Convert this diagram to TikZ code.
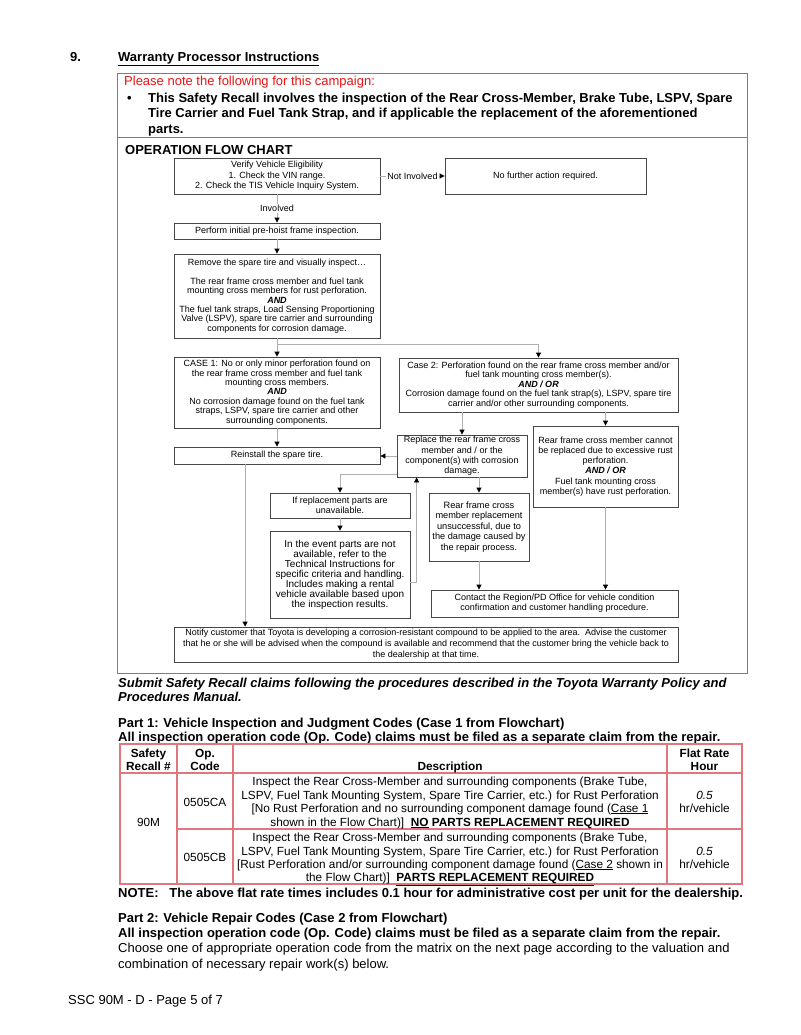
\documentclass[tikz,border=0pt]{standalone}
\usepackage{fontspec}
\setmainfont{Liberation Sans}
\usetikzlibrary{arrows.meta,calc}
\definecolor{boxc}{RGB}{70,70,70}
\definecolor{linec}{RGB}{175,175,175}
\definecolor{framec}{RGB}{125,125,125}
\definecolor{tabc}{RGB}{226,118,126}
\definecolor{redt}{RGB}{232,20,20}
\newcommand\fcf{\fontsize{9}{9.4}\selectfont}
\newcommand\bodyf{\fontsize{13}{15.5}\selectfont}
\newcommand\tabf{\fontsize{11.8}{13.6}\selectfont}
\newcommand\bitx[1]{\textbf{\textit{#1}}}
\begin{document}
\begin{tikzpicture}[x=1pt,y=-1pt,
  fbox/.style={draw=boxc, line width=0.8pt, inner sep=0pt, align=center, font=\fcf},
  conn/.style={draw=linec, line width=0.8pt},
  arr/.style={conn, -{Triangle[length=5pt,width=5pt,color=black]}},
  body/.style={anchor=base west, inner sep=0pt, font=\bodyf},
  bodyb/.style={body, font=\bodyf\bfseries},
  tab/.style={anchor=base, inner sep=0pt, font=\tabf},
  tabb/.style={tab, font=\tabf\bfseries},
  lbl/.style={fill=white, inner sep=1pt, font=\fcf}]
\fill[white] (0,0) rectangle (800,1035);
\useasboundingbox (0,0) rectangle (800,1035);

% heading
\node[bodyb] (num) at (70,61.5) {9.};
\node[bodyb] (title) at (118,61.5) {\underline{Warranty Processor Instructions}};

% frame
\draw[framec, line width=0.8pt] (117,73) rectangle (747,673);
\draw[framec, line width=0.8pt] (117,137) -- (747,137);

\node[body, text=redt] (note) at (124,85.5) {Please note the following for this campaign:};
\node[bodyb] (bul) at (127,102.5) {•};
\node[bodyb] (l1) at (148,102.5) {This Safety Recall involves the inspection of the Rear Cross-Member, Brake Tube, LSPV, Spare};
\node[bodyb] (l2) at (148,118) {Tire Carrier and Fuel Tank Strap, and if applicable the replacement of the aforementioned};
\node[bodyb] (l3) at (148,133.5) {parts.};
\node[bodyb] (ofc) at (125,154.5) {OPERATION FLOW CHART};

% flowchart boxes
\node[fbox, minimum width=206pt, minimum height=36pt, font=\fontsize{9}{10.5}\selectfont] (b1) at (277,176)
  {Verify Vehicle Eligibility\\1. Check the VIN range.\\2. Check the TIS Vehicle Inquiry System.};
\node[fbox, minimum width=201pt, minimum height=36pt] (b2) at (545.5,176) {No further action required.};
\node[fbox, minimum width=206pt, minimum height=16pt] (b3) at (277,231) {Perform initial pre-hoist frame inspection.};
\node[fbox, minimum width=206pt, minimum height=84pt] (b4) at (277,296)
  {Remove the spare tire and visually inspect…\\[9.4pt]The rear frame cross member and fuel tank\\mounting cross members for rust perforation.\\\bitx{AND}\\The fuel tank straps, Load Sensing Proportioning\\Valve (LSPV), spare tire carrier and surrounding\\components for corrosion damage.};
\node[fbox, minimum width=206pt, minimum height=71pt] (b5) at (277,392.5)
  {CASE 1: No or only minor perforation found on\\the rear frame cross member and fuel tank\\mounting cross members.\\\bitx{AND}\\No corrosion damage found on the fuel tank\\straps, LSPV, spare tire carrier and other\\surrounding components.};
\node[fbox, minimum width=279pt, minimum height=54pt] (b6) at (538.5,385)
  {Case 2: Perforation found on the rear frame cross member and/or\\fuel tank mounting cross member(s).\\\bitx{AND / OR}\\Corrosion damage found on the fuel tank strap(s), LSPV, spare tire\\carrier and/or other surrounding components.};
\node[fbox, minimum width=206pt, minimum height=17pt] (b7) at (277,455.5) {Reinstall the spare tire.};
\node[fbox, minimum width=130pt, minimum height=42pt, font=\fontsize{9}{10.3}\selectfont] (b8) at (462,456)
  {Replace the rear frame cross\\member and / or the\\component(s) with corrosion\\damage.};
\node[fbox, minimum width=145pt, minimum height=81pt, font=\fontsize{9}{10.2}\selectfont] (b9) at (605.5,466.5)
  {Rear frame cross member cannot\\be replaced due to excessive rust\\perforation.\\\bitx{AND / OR}\\Fuel tank mounting cross\\member(s) have rust perforation.};
\node[fbox, minimum width=140pt, minimum height=25pt, font=\fontsize{9}{10.5}\selectfont] (b10) at (340,505.5)
  {If replacement parts are\\unavailable.};
\node[fbox, minimum width=140pt, minimum height=87pt, font=\fontsize{10}{10}\selectfont] (b11) at (340,574.5)
  {In the event parts are not\\available, refer to the\\Technical Instructions for\\specific criteria and handling.\\Includes making a rental\\vehicle available based upon\\the inspection results.};
\node[fbox, minimum width=100pt, minimum height=68pt, font=\fontsize{9.2}{10.5}\selectfont] (b12) at (479,527)
  {Rear frame cross\\member replacement\\unsuccessful, due to\\the damage caused by\\the repair process.};
\node[fbox, minimum width=247pt, minimum height=27pt, font=\fontsize{9}{10}\selectfont] (b13) at (554.5,603.5)
  {Contact the Region/PD Office for vehicle condition\\confirmation and customer handling procedure.};
\node[fbox, minimum width=504pt, minimum height=35pt, font=\fontsize{9}{11}\selectfont] (b14) at (426,644.5)
  {Notify customer that Toyota is developing a corrosion-resistant compound to be applied to the area.\ \ Advise the customer\\that he or she will be advised when the compound is available and recommend that the customer bring the vehicle back to\\the dealership at that time.};

% connectors
\draw[arr] (b1.east) -- node[lbl] {Not Involved} (b2.west);
\draw[arr] (b1.south) -- node[lbl] {Involved} (b3.north);
\draw[arr] (b3.south) -- (b4.north);
\draw[arr] (b4.south) -- (b5.north);
\coordinate (sp) at ($(b4.south)+(0,6)$);
\draw[arr] (sp) -| (b6.north);
\draw[arr] (b5.south) -- (b7.north);
\draw[arr] (b6.south -| b8.north) -- (b8.north);
\draw[arr] (b6.south -| b9.north) -- (b9.north);
\draw[arr] (b8.west) -- (b8.west -| b7.east);
\coordinate (c8) at ($(b8.south west)+(0,-3)$);
\draw[arr] (c8) -| (b10.north);
\draw[arr] (b10.south) -- (b11.north);
\coordinate (c11) at ($(b11.east)+(0,7.5)$);
\coordinate (c8b) at ($(b8.south west)+(20,0)$);
\draw[arr] (c11) -| (c8b);
\draw[arr] (b8.south -| b12.north) -- (b12.north);
\draw[arr] (b12.south) -- (b12.south |- b13.north);
\draw[arr] (b9.south) -- (b9.south |- b13.north);
\coordinate (c7) at ($(b7.south west)+(71.5,0)$);
\draw[arr] (c7) -- (c7 |- b14.north);

% text below frame
\node[body, font=\bodyf\bfseries\itshape] (s1) at (118,687.5) {Submit Safety Recall claims following the procedures described in the Toyota Warranty Policy and};
\node[body, font=\bodyf\bfseries\itshape] (s2) at (118,701.5) {Procedures Manual.};
\node[bodyb] (p1a) at (118,727.5) {Part 1: Vehicle Inspection and Judgment Codes (Case 1 from Flowchart)};
\node[bodyb] (p1b) at (118,741) {All inspection operation code (Op. Code) claims must be filed as a separate claim from the repair.};

% table
\draw[tabc, line width=1.2pt] (120,744) rectangle (742,884);
\draw[tabc, line width=1.2pt] (177,744) -- (177,884);
\draw[tabc, line width=1.2pt] (233,744) -- (233,884);
\draw[tabc, line width=1.2pt] (667,744) -- (667,884);
\draw[tabc, line width=1.2pt] (120,773) -- (742,773);
\draw[tabc, line width=1.2pt] (177,829) -- (742,829);

\node[tabb] (h1a) at (148.5,757) {Safety};
\node[tabb] (h1b) at (148.5,770) {Recall \#};
\node[tabb] (h2a) at (205,757) {Op.};
\node[tabb] (h2b) at (205,770) {Code};
\node[tabb] (h3) at (450,770) {Description};
\node[tabb] (h4a) at (704.5,757) {Flat Rate};
\node[tabb] (h4b) at (704.5,770) {Hour};

\node[tab] (r90) at (148.5,826) {90M};
\node[tab] (ca) at (205,806) {0505CA};
\node[tab] (cb) at (205,861) {0505CB};

\node[tab] (d1a) at (450,785) {Inspect the Rear Cross-Member and surrounding components (Brake Tube,};
\node[tab] (d1b) at (450,799) {LSPV, Fuel Tank Mounting System, Spare Tire Carrier, etc.) for Rust Perforation};
\node[tab] (d1c) at (450,812) {[No Rust Perforation and no surrounding component damage found (\underline{Case 1}};
\node[tab] (d1d) at (450,826) {shown in the Flow Chart)]\ \ \textbf{\underline{NO} PARTS REPLACEMENT REQUIRED}};
\node[tab] (d2a) at (450,841) {Inspect the Rear Cross-Member and surrounding components (Brake Tube,};
\node[tab] (d2b) at (450,855) {LSPV, Fuel Tank Mounting System, Spare Tire Carrier, etc.) for Rust Perforation};
\node[tab] (d2c) at (450,868) {[Rust Perforation and/or surrounding component damage found (\underline{Case 2} shown in};
\node[tab] (d2d) at (450,881.5) {the Flow Chart)]\ \ \textbf{\underline{PARTS REPLACEMENT REQUIRED}}};

\node[tab, font=\tabf\itshape] (f1a) at (704.5,799) {0.5};
\node[tab] (f1b) at (704.5,812) {hr/vehicle};
\node[tab, font=\tabf\itshape] (f2a) at (704.5,855) {0.5};
\node[tab] (f2b) at (704.5,868) {hr/vehicle};

\node[bodyb] (nt) at (118,897.5) {NOTE:\ \ \ The above flat rate times includes 0.1 hour for administrative cost per unit for the dealership.};
\node[bodyb] (p2a) at (118,922.5) {Part 2: Vehicle Repair Codes (Case 2 from Flowchart)};
\node[bodyb] (p2b) at (118,937.5) {All inspection operation code (Op. Code) claims must be filed as a separate claim from the repair.};
\node[body] (p2c) at (118,952.5) {Choose one of appropriate operation code from the matrix on the next page according to the valuation and};
\node[body] (p2d) at (118,968) {combination of necessary repair work(s) below.};
\node[body] (foot) at (68,1004.5) {SSC 90M - D - Page 5 of 7};
\end{tikzpicture}
\end{document}
